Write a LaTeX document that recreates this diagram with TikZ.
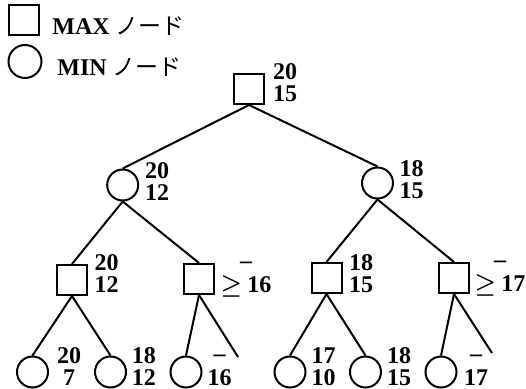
\documentclass[tikz,border=0pt]{standalone}
\usepackage{fontspec}
\setmainfont{Liberation Serif}
\newfontfamily\jpfont{Noto Sans CJK JP}
% two stacked values, centred, baseline at the first line
\newcommand\twoval[2]{\vtop{\baselineskip=11pt\lineskiplimit=-20pt\halign{\hfil##\hfil\cr#1\cr#2\cr}}}
\newcommand\nobound{\raisebox{0.12em}{\textendash}}
\newcommand\atleast{{\boldmath$\geq$}\hspace{0.22em}}
\begin{document}
\begin{tikzpicture}[x=0.5pt,y=-0.5pt,
  maxnode/.style={draw,line width=1pt,rectangle,minimum size=15pt,inner sep=0pt},
  minnode/.style={draw,line width=1pt,circle,minimum size=15.5pt,inner sep=0pt},
  val/.style={inner sep=0pt,anchor=base,font=\fontsize{12}{11}\selectfont\bfseries},
  legtext/.style={inner sep=0pt,anchor=base west,font=\fontsize{12}{11}\selectfont\bfseries},
  edge/.style={line width=1pt}]
\useasboundingbox (0,0) rectangle (526,389);

% legend
\node[maxnode] (legmax) at (23.5,20.5) {};
\node[legtext] (legmaxt) at (52,35) {MAX {\jpfont\mdseries\fontsize{11.5}{11}\selectfont ノード}};
\node[minnode,minimum size=16.5pt] (legmin) at (25,61.5) {};
\node[legtext] (legmint) at (57,76) {MIN {\jpfont\mdseries\fontsize{11.5}{11}\selectfont ノード}};

% tree nodes
\node[maxnode] (r) at (249,89) {};
\node[minnode] (a) at (122.7,185) {};
\node[minnode] (b) at (377.5,183) {};
\node[maxnode] (aa) at (72,280) {};
\node[maxnode] (ab) at (199,279) {};
\node[maxnode] (ba) at (326.5,278) {};
\node[maxnode] (bb) at (454,278) {};
\node[minnode] (l1) at (32.5,372) {};
\node[minnode] (l2) at (110.5,372) {};
\node[minnode] (l3) at (186,372) {};
\node[minnode] (l4) at (290,372) {};
\node[minnode] (l5) at (365.5,372) {};
\node[minnode] (l6) at (441,372) {};
\coordinate (abx) at (238,357);
\coordinate (bbx) at (492,353);

% edges
\draw[edge] (r.south) -- (a.north);
\draw[edge] (r.south) -- (b.north);
\draw[edge] (a.south) -- (aa.north);
\draw[edge] (a.south) -- (ab.north);
\draw[edge] (b.south) -- (ba.north);
\draw[edge] (b.south) -- (bb.north);
\draw[edge] (aa.south) -- (l1.north);
\draw[edge] (aa.south) -- (l2.north);
\draw[edge] (ab.south) -- (l3.north);
\draw[edge] (ab.south) -- (abx);
\draw[edge] (ba.south) -- (l4.north);
\draw[edge] (ba.south) -- (l5.north);
\draw[edge] (bb.south) -- (l6.north);
\draw[edge] (bb.south) -- (bbx);

% values
\node[val] (rv) at (285,80) {\twoval{20}{15}};
\node[val] (av) at (157,179) {\twoval{20}{12}};
\node[val] (bv) at (411.5,177) {\twoval{18}{15}};
\node[val] (aav) at (106.5,271) {\twoval{20}{12}};
\node[val] (abv) at (246,271) {\twoval{\nobound}{\atleast16}};
\node[val] (bav) at (361,271) {\twoval{18}{15}};
\node[val] (bbv) at (500,270) {\twoval{\nobound}{\atleast17}};
\node[val] (l1v) at (69,364) {\twoval{20}{7}};
\node[val] (l2v) at (144,364) {\twoval{18}{12}};
\node[val] (l3v) at (219.5,364) {\twoval{\nobound}{16}};
\node[val] (l4v) at (323.5,364) {\twoval{17}{10}};
\node[val] (l5v) at (399,364) {\twoval{18}{15}};
\node[val] (l6v) at (476,364) {\twoval{\nobound}{17}};
\end{tikzpicture}
\end{document}
